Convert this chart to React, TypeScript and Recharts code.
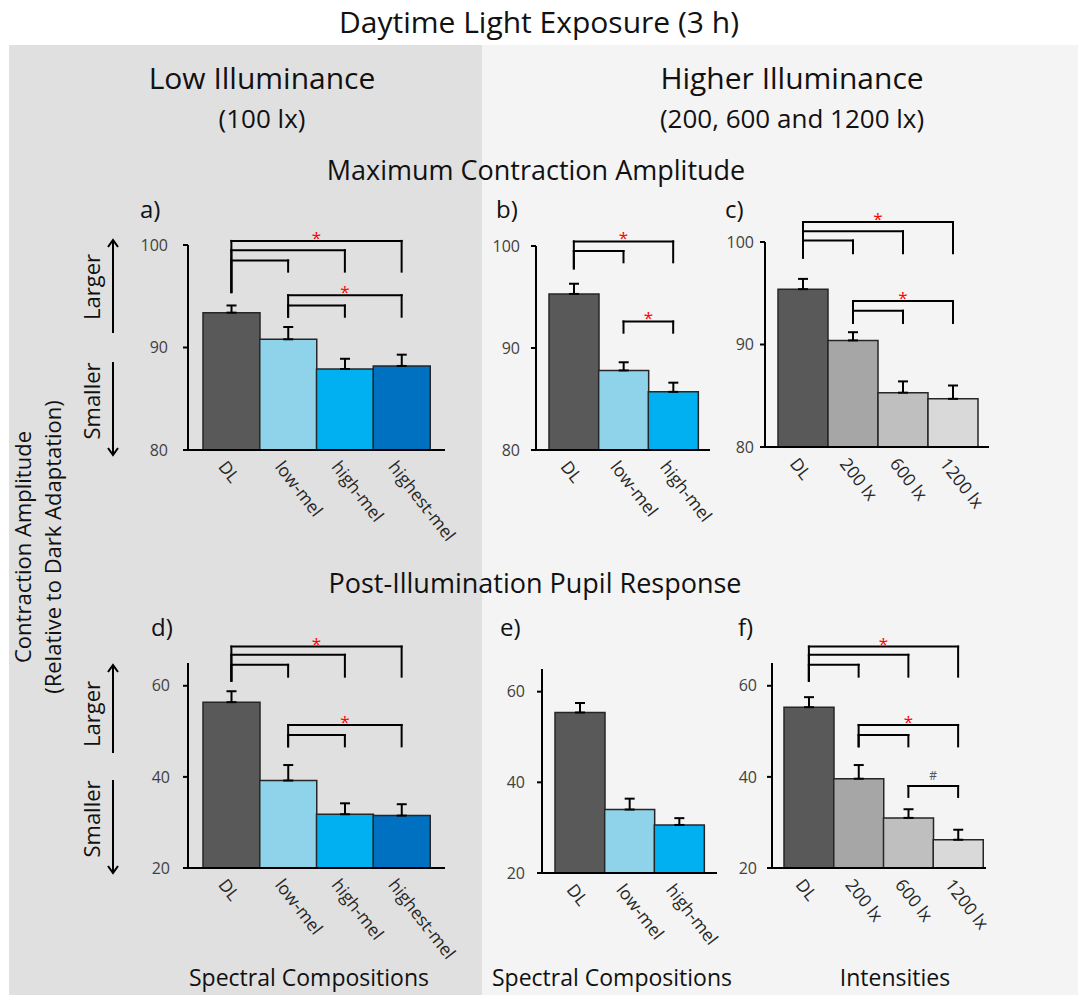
import React from 'react';
import { BarChart, Bar, Cell, XAxis, YAxis, ErrorBar, ReferenceLine } from 'recharts';

const FONT = '"Open Sans", "Noto Sans", sans-serif';

// categories
const spectral4 = ['DL', 'low-mel', 'high-mel', 'highest-mel'];
const spectral3 = ['DL', 'low-mel', 'high-mel'];
const intensities = ['DL', '200 lx', '600 lx', '1200 lx'];

const spectralColors = ['#595959', '#8ed3e9', '#00b0f0', '#0070c0'];
const intensityColors = ['#595959', '#a6a6a6', '#bfbfbf', '#d9d9d9'];

// maximum contraction amplitude (% of dark adaptation), mean + upper error
const ampLow = [93.4, 90.8, 87.9, 88.2];
const ampLowErr = [0.7, 1.2, 1.0, 1.1];
const ampSpectral = [95.3, 87.8, 85.7];
const ampSpectralErr = [1.0, 0.8, 0.9];
const ampIntensity = [95.4, 90.4, 85.3, 84.7];
const ampIntensityErr = [1.0, 0.8, 1.1, 1.3];

// post-illumination pupil response
const piprLow = [56.4, 39.2, 31.8, 31.5];
const piprLowErr = [2.4, 3.4, 2.4, 2.5];
const piprSpectral = [55.4, 34.0, 30.6];
const piprSpectralErr = [2.1, 2.4, 1.5];
const piprIntensity = [55.3, 39.6, 31.0, 26.2];
const piprIntensityErr = [2.2, 3.0, 1.9, 2.2];

const ampTicks = [80, 90, 100];
const piprTicks = [20, 40, 60];

type Bracket = { from: string; to: string; y: number; fromDrop: number; toDrop: number; mark?: string };

// significance brackets, in data units
const bracketsA: Bracket[] = [
  { from: 'DL', to: 'highest-mel', y: 100.4, fromDrop: 95.4, toDrop: 97.4, mark: '*' },
  { from: 'DL', to: 'high-mel', y: 99.5, fromDrop: 95.4, toDrop: 97.4 },
  { from: 'DL', to: 'low-mel', y: 98.5, fromDrop: 95.4, toDrop: 97.4 },
  { from: 'low-mel', to: 'highest-mel', y: 95.1, fromDrop: 93.0, toDrop: 93.0, mark: '*' },
  { from: 'low-mel', to: 'high-mel', y: 94.1, fromDrop: 93.0, toDrop: 93.0 },
];
const bracketsB: Bracket[] = [
  { from: 'DL', to: 'high-mel', y: 100.45, fromDrop: 97.8, toDrop: 98.4, mark: '*' },
  { from: 'DL', to: 'low-mel', y: 99.5, fromDrop: 97.8, toDrop: 98.4 },
  { from: 'low-mel', to: 'high-mel', y: 92.6, fromDrop: 91.5, toDrop: 91.5, mark: '*' },
];
const bracketsC: Bracket[] = [
  { from: 'DL', to: '1200 lx', y: 101.95, fromDrop: 98.5, toDrop: 98.9, mark: '*' },
  { from: 'DL', to: '600 lx', y: 101.05, fromDrop: 98.5, toDrop: 98.9 },
  { from: 'DL', to: '200 lx', y: 100.15, fromDrop: 98.5, toDrop: 98.9 },
  { from: '200 lx', to: '1200 lx', y: 94.25, fromDrop: 92.1, toDrop: 92.1, mark: '*' },
  { from: '200 lx', to: '600 lx', y: 93.3, fromDrop: 92.1, toDrop: 92.1 },
];
const bracketsD: Bracket[] = [
  { from: 'DL', to: 'highest-mel', y: 68.6, fromDrop: 61.1, toDrop: 62.0, mark: '*' },
  { from: 'DL', to: 'high-mel', y: 66.8, fromDrop: 61.1, toDrop: 62.0 },
  { from: 'DL', to: 'low-mel', y: 64.6, fromDrop: 61.1, toDrop: 62.0 },
  { from: 'low-mel', to: 'highest-mel', y: 51.4, fromDrop: 46.7, toDrop: 46.7, mark: '*' },
  { from: 'low-mel', to: 'high-mel', y: 49.2, fromDrop: 46.7, toDrop: 46.7 },
];
const bracketsF: Bracket[] = [
  { from: 'DL', to: '1200 lx', y: 68.6, fromDrop: 61.1, toDrop: 62.0, mark: '*' },
  { from: 'DL', to: '600 lx', y: 66.8, fromDrop: 61.1, toDrop: 62.0 },
  { from: 'DL', to: '200 lx', y: 64.6, fromDrop: 61.1, toDrop: 62.0 },
  { from: '200 lx', to: '1200 lx', y: 51.4, fromDrop: 46.7, toDrop: 46.7, mark: '*' },
  { from: '200 lx', to: '600 lx', y: 49.2, fromDrop: 46.7, toDrop: 46.7 },
  { from: '600 lx', to: '1200 lx', y: 38.0, fromDrop: 35.6, toDrop: 35.6, mark: '#' },
];

const SlantTick = (props: any) => {
  const { x, y, payload } = props;
  const tx = x - 14;
  const ty = y + 17;
  return (
    <text x={tx} y={ty} transform={`rotate(52, ${tx}, ${ty})`} fill="#262626" fontSize={17.5} fontFamily={FONT}>
      {payload.value}
    </text>
  );
};

const markLabel = (mark: string) => (p: any) => {
  const vb = p.viewBox;
  const cx = vb.x + vb.width / 2;
  if (mark === '#') {
    return (
      <text x={cx} y={vb.y - 6} textAnchor="middle" fill="#555" fontSize={12} fontFamily={FONT}>
        #
      </text>
    );
  }
  return (
    <text x={cx} y={vb.y + 3} textAnchor="middle" fill="#ff0000" fontSize={17} fontFamily={FONT}>
      *
    </text>
  );
};

interface PanelProps {
  cats: string[];
  values: number[];
  errors: number[];
  colors: string[];
  domain: [number, number];
  ticks: number[];
  brackets: Bracket[];
  plot: [number, number, number, number];
  pad: [number, number];
  tickGap: number;
}

function Panel({ cats, values, errors, colors, domain, ticks, brackets, plot, pad, tickGap }: PanelProps) {
  const [pl, pt, pr, pb] = plot;
  const data = cats.map((name, i) => ({ name, value: values[i], err: [0, errors[i]] }));
  // extra room on the right so slanted labels are not clipped
  const width = pr - pl + 60 + 50;
  const height = pb - pt + 55 + 110;
  const line = { stroke: '#000', strokeWidth: 2, strokeLinecap: 'square' as const, ifOverflow: 'visible' as const };
  return (
    <div style={{ position: 'absolute', left: pl - 60, top: pt - 55 }}>
      <BarChart
        width={width}
        height={height}
        data={data}
        margin={{ top: 55, right: 50, bottom: 0, left: 0 }}
        barCategoryGap={0}
        barGap={0}
      >
        <XAxis
          dataKey="name"
          type="category"
          padding={{ left: pad[0], right: pad[1] }}
          axisLine={{ stroke: '#000', strokeWidth: 2 }}
          tickLine={false}
          tickSize={0}
          tickMargin={0}
          height={110}
          interval={0}
          tick={<SlantTick />}
        />
        <YAxis
          type="number"
          domain={domain}
          ticks={ticks}
          allowDataOverflow
          width={60}
          axisLine={{ stroke: '#000', strokeWidth: 2 }}
          tickLine={{ stroke: '#000', strokeWidth: 2 }}
          tickSize={5}
          tickMargin={tickGap}
          tick={{ fill: '#404040', fontSize: 16, fontFamily: FONT }}
        />
        <Bar dataKey="value" stroke="#262626" strokeWidth={1.5} isAnimationActive={false}>
          {data.map((d, i) => (
            <Cell key={d.name} fill={colors[i]} />
          ))}
          <ErrorBar dataKey="err" width={5} stroke="#000" strokeWidth={2} isAnimationActive={false} />
        </Bar>
        {brackets.map((b, i) => (
          <ReferenceLine
            key={`h${i}`}
            {...line}
            segment={[{ x: b.from, y: b.y }, { x: b.to, y: b.y }]}
            label={b.mark ? markLabel(b.mark) : undefined}
          />
        ))}
        {brackets.map((b, i) => (
          <ReferenceLine key={`l${i}`} {...line} segment={[{ x: b.from, y: b.y }, { x: b.from, y: b.fromDrop }]} />
        ))}
        {brackets.map((b, i) => (
          <ReferenceLine key={`r${i}`} {...line} segment={[{ x: b.to, y: b.y }, { x: b.to, y: b.toDrop }]} />
        ))}
      </BarChart>
    </div>
  );
}

function VArrow({ x, tail, tip }: { x: number; tail: number; tip: number }) {
  const dir = tip < tail ? 1 : -1;
  return (
    <g stroke="#000" strokeWidth={2} fill="none">
      <line x1={x} y1={tail} x2={x} y2={tip} />
      <polyline points={`${x - 5},${tip + dir * 7} ${x},${tip} ${x + 5},${tip + dir * 7}`} />
    </g>
  );
}

const txt = { fontFamily: FONT, fill: '#111' };

export default function App() {
  return (
    <div style={{ position: 'absolute', left: 0, top: 0, width: 1078, height: 995, background: '#fff', overflow: 'hidden' }}>
      <div style={{ position: 'absolute', left: 9, top: 45, width: 473, height: 950, background: '#e0e0e0' }} />
      <div style={{ position: 'absolute', left: 482, top: 45, width: 596, height: 950, background: '#f4f4f4' }} />
      <svg width={1078} height={995} style={{ position: 'absolute', left: 0, top: 0 }}>
        <text x={539} y={33} textAnchor="middle" fontSize={30} {...txt}>Daytime Light Exposure (3 h)</text>
        <text x={262} y={89} textAnchor="middle" fontSize={30} {...txt}>Low Illuminance</text>
        <text x={262} y={128} textAnchor="middle" fontSize={26} {...txt}>(100 lx)</text>
        <text x={792} y={89} textAnchor="middle" fontSize={30} {...txt}>Higher Illuminance</text>
        <text x={792} y={128} textAnchor="middle" fontSize={26} {...txt}>(200, 600 and 1200 lx)</text>
        <text x={536} y={180} textAnchor="middle" fontSize={27} {...txt}>Maximum Contraction Amplitude</text>
        <text x={535} y={593} textAnchor="middle" fontSize={27} {...txt}>Post-Illumination Pupil Response</text>

        <text x={140} y={218} fontSize={24} {...txt}>a)</text>
        <text x={496} y={218} fontSize={24} {...txt}>b)</text>
        <text x={725} y={218} fontSize={24} {...txt}>c)</text>
        <text x={151} y={636} fontSize={24} {...txt}>d)</text>
        <text x={500} y={636} fontSize={24} {...txt}>e)</text>
        <text x={738} y={636} fontSize={24} {...txt}>f)</text>

        <text transform="translate(31,547) rotate(-90)" textAnchor="middle" fontSize={22} {...txt}>Contraction Amplitude</text>
        <text transform="translate(61,547) rotate(-90)" textAnchor="middle" fontSize={22} {...txt}>(Relative to Dark Adaptation)</text>

        <text transform="translate(100,287) rotate(-90)" textAnchor="middle" fontSize={22} {...txt}>Larger</text>
        <text transform="translate(100,401) rotate(-90)" textAnchor="middle" fontSize={22} {...txt}>Smaller</text>
        <VArrow x={113} tail={333} tip={240} />
        <VArrow x={113} tail={362} tip={455} />
        <text transform="translate(100,714) rotate(-90)" textAnchor="middle" fontSize={22} {...txt}>Larger</text>
        <text transform="translate(100,819) rotate(-90)" textAnchor="middle" fontSize={22} {...txt}>Smaller</text>
        <VArrow x={113} tail={753} tip={665} />
        <VArrow x={113} tail={780} tip={873} />

        <text x={309} y={986} textAnchor="middle" fontSize={23} {...txt}>Spectral Compositions</text>
        <text x={612} y={986} textAnchor="middle" fontSize={23} {...txt}>Spectral Compositions</text>
        <text x={895} y={986} textAnchor="middle" fontSize={23} {...txt}>Intensities</text>
      </svg>

      <Panel cats={spectral4} values={ampLow} errors={ampLowErr} colors={spectralColors} domain={[80, 100]} ticks={ampTicks}
        brackets={bracketsA} plot={[188, 245, 445, 450]} pad={[15, 15]} tickGap={15} />
      <Panel cats={spectral3} values={ampSpectral} errors={ampSpectralErr} colors={spectralColors} domain={[80, 100]} ticks={ampTicks}
        brackets={bracketsB} plot={[536, 246, 710, 450]} pad={[13, 12]} tickGap={11} />
      <Panel cats={intensities} values={ampIntensity} errors={ampIntensityErr} colors={intensityColors} domain={[80, 100]} ticks={ampTicks}
        brackets={bracketsC} plot={[765, 242, 989, 447]} pad={[13, 11]} tickGap={6} />
      <Panel cats={spectral4} values={piprLow} errors={piprLowErr} colors={spectralColors} domain={[20, 65]} ticks={piprTicks}
        brackets={bracketsD} plot={[188, 663, 445, 868]} pad={[15, 15]} tickGap={13} />
      <Panel cats={spectral3} values={piprSpectral} errors={piprSpectralErr} colors={spectralColors} domain={[20, 65]} ticks={piprTicks}
        brackets={[]} plot={[542, 669, 717, 873]} pad={[13, 13]} tickGap={12} />
      <Panel cats={intensities} values={piprIntensity} errors={piprIntensityErr} colors={intensityColors} domain={[20, 65]} ticks={piprTicks}
        brackets={bracketsF} plot={[772, 663, 986, 868]} pad={[12, 3]} tickGap={10} />
    </div>
  );
}
